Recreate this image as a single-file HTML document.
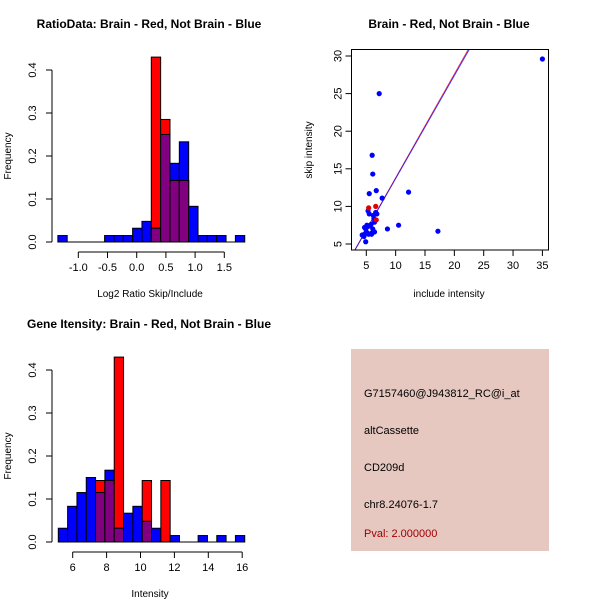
<!DOCTYPE html>
<html><head><meta charset="utf-8"><style>
body{margin:0;background:#fff}
svg{display:block;font-family:"Liberation Sans",sans-serif}
</style></head><body>
<svg id="c" width="600" height="600" xmlns="http://www.w3.org/2000/svg">
<rect width="600" height="600" fill="#fff"/>
<g id="p1"></g>
<g id="p2"></g>
<g id="p3"></g>
<g>
<rect x="351" y="349" width="198" height="202" fill="#e6c8c1"/>
<text x="364" y="397" font-size="11" fill="#000">G7157460@J943812_RC@i_at</text>
<text x="364" y="434" font-size="11" fill="#000">altCassette</text>
<text x="364" y="471" font-size="11" fill="#000">CD209d</text>
<text x="364" y="508" font-size="11" fill="#000">chr8.24076-1.7</text>
<text x="364" y="537" font-size="11" fill="#a00000">Pval: 2.000000</text>
</g>
</svg>
<script>
// Ratio histogram data
const ratioBinStart = -1.35;
const ratioBinWidth = 0.16;
const ratioBlue = [0.015,0,0,0,0,0.015,0.015,0.015,0.032,0.048,0.032,0.25,0.183,0.233,0.083,0.015,0.015,0.015,0,0.015];
const ratioRed  = [0,0,0,0,0,0,0,0,0,0,0.43,0.285,0.143,0.143,0,0,0,0,0,0];
const ratioXTicks = [-1.0,-0.5,0.0,0.5,1.0,1.5];
const freqTicks = [0.0,0.1,0.2,0.3,0.4];
// Intensity histogram data
const intBinStart = 5.15;
const intBinWidth = 0.55;
const intBlue = [0.032,0.083,0.115,0.15,0.115,0.167,0.032,0.067,0.083,0.048,0.032,0,0.015,0,0,0.015,0,0.015,0,0.015];
const intRed  = [0,0,0,0,0.143,0.143,0.43,0,0,0.143,0,0.143,0,0,0,0,0,0,0,0];
const intXTicks = [6,8,10,12,14,16];
// Scatter data
const blueX = [7.2,6.0,6.1,6.7,5.5,7.7,12.2,17.2,8.6,10.5,4.9,35.0,
  5.3,5.5,6.2,6.6,6.8,6.4,5.8,5.1,4.9,4.7,5.2,5.6,6.1,6.4,4.7,5.1,5.4,4.5,5.9,6.3,4.3,4.6,5.0,5.8];
const blueY = [25.0,16.8,14.3,12.1,11.7,11.1,11.9,6.7,7.0,7.5,5.3,29.6,
  9.4,9.0,8.8,9.2,9.0,7.9,7.6,7.5,7.0,7.2,7.3,7.4,7.0,6.6,6.3,6.5,6.3,6.1,6.3,8.4,6.2,6.0,6.6,6.4];
const redX = [5.4,6.6,6.7];
const redY = [9.8,10.0,8.2];
const scXTicks = [5,10,15,20,25,30,35];
const scYTicks = [5,10,15,20,25,30];
const fitSlopeBlue = 1.37, fitSlopeRed = 1.38;

const NS = "http://www.w3.org/2000/svg";
function mk(parent, tag, attrs){const e=document.createElementNS(NS,tag);for(const k in attrs)e.setAttribute(k,attrs[k]);parent.appendChild(e);return e;}

function histogram(g, o){
  const xS = v => o.x0px + (v - o.x0val) * o.pxPerUnit;
  const yS = v => o.base - v * 430;
  const n = o.blue.length;
  for(let i=0;i<n;i++){
    const a = o.binStart + i*o.binW, b = a + o.binW;
    const x1 = xS(a), x2 = xS(b);
    const r = o.red[i], bl = o.blue[i];
    if(r>0){const e=mk(g,'rect',{x:x1,y:yS(r),width:x2-x1,height:yS(0)-yS(r),fill:'#ff0000',stroke:'#000','stroke-width':1});
      
      }
    if(bl>0){const e=mk(g,'rect',{x:x1,y:yS(bl),width:x2-x1,height:yS(0)-yS(bl),fill:'#0000ff',stroke:'#000','stroke-width':1});
      
      }
    const m = Math.min(r,bl);
    if(m>0){const e=mk(g,'rect',{x:x1,y:yS(m),width:x2-x1,height:yS(0)-yS(m),fill:'#800080',stroke:'#000','stroke-width':1});
      
      }
  }
  mk(g,'line',{x1:xS(o.binStart),x2:xS(o.binStart+n*o.binW),y1:yS(0),y2:yS(0),stroke:'#000'});
  const ax=52;
  mk(g,'line',{x1:ax,x2:ax,y1:yS(0),y2:yS(0.4),stroke:'#000'});
  o.yt.forEach(t=>{mk(g,'line',{x1:ax-6,x2:ax,y1:yS(t),y2:yS(t),stroke:'#000'});
    const tx=mk(g,'text',{x:0,y:0,'font-size':11,'text-anchor':'middle',transform:`translate(${ax-16},${yS(t)}) rotate(-90)`});tx.textContent=t.toFixed(1);
    
    });
  const ty=o.base+10;
  mk(g,'line',{x1:xS(o.xt[0]),x2:xS(o.xt[o.xt.length-1]),y1:ty,y2:ty,stroke:'#000'});
  o.xt.forEach(t=>{mk(g,'line',{x1:xS(t),x2:xS(t),y1:ty,y2:ty+6,stroke:'#000'});
    const tx=mk(g,'text',{x:xS(t),y:ty+19,'font-size':11,'text-anchor':'middle'});tx.textContent=o.fmt(t);
    
    });
  const yl=mk(g,'text',{x:0,y:0,'font-size':10,'text-anchor':'middle',transform:`translate(11,${(yS(0)+yS(0.4))/2}) rotate(-90)`});yl.textContent='Frequency';
  
  
  const xl=mk(g,'text',{x:150,y:o.base+55,'font-size':10,'text-anchor':'middle'});xl.textContent=o.xlabel;
  
  
  const tl=mk(g,'text',{x:o.titleX,y:o.base-214,'font-size':12,'font-weight':'bold','text-anchor':'middle'});tl.textContent=o.title;
  
  
}

histogram(document.getElementById('p1'),{x0px:136.7,x0val:0,pxPerUnit:58.4,base:242,binStart:ratioBinStart,binW:ratioBinWidth,
  blue:ratioBlue,red:ratioRed,yt:freqTicks,xt:ratioXTicks,fmt:t=>t.toFixed(1),xlabel:'Log2 Ratio Skip/Include',
  title:'RatioData: Brain - Red, Not Brain - Blue',titleX:149});
histogram(document.getElementById('p3'),{x0px:72.7,x0val:6,pxPerUnit:16.95,base:542,binStart:intBinStart,binW:intBinWidth,
  blue:intBlue,red:intRed,yt:freqTicks,xt:intXTicks,fmt:t=>String(t),xlabel:'Intensity',
  title:'Gene Itensity: Brain - Red, Not Brain - Blue',titleX:149});

(function(){
  const g=document.getElementById('p2');
  const L=351.5,R=548.5,T=49.5,B=250;
  const xS=v=>366.3+(v-5)*5.87, yS=v=>244-(v-5)*7.52;
  const cp=mk(g,'clipPath',{id:'clp'});mk(cp,'rect',{x:L,y:T,width:R-L,height:B-T});
  const lg=mk(g,'g',{'clip-path':'url(#clp)'});
  [[fitSlopeRed,'#ff0000'],[fitSlopeBlue,'#0000ff']].forEach(([s,c])=>{
    const e=mk(lg,'line',{x1:xS(0),y1:yS(0),x2:xS(40),y2:yS(40*s),stroke:c,'stroke-width':1,'stroke-opacity':0.75});
    
    
  });
  blueX.forEach((x,i)=>{const e=mk(lg,'circle',{cx:xS(x),cy:yS(blueY[i]),r:2.6,fill:'#0000ff'});
    
    });
  redX.forEach((x,i)=>{const e=mk(lg,'circle',{cx:xS(x),cy:yS(redY[i]),r:2.6,fill:'#e00000'});
    
    });
  mk(g,'rect',{x:L,y:T,width:R-L,height:B-T,fill:'none',stroke:'#000'});
  scXTicks.forEach(t=>{mk(g,'line',{x1:xS(t),x2:xS(t),y1:B,y2:B+6,stroke:'#000'});
    const tx=mk(g,'text',{x:xS(t),y:B+19,'font-size':11,'text-anchor':'middle'});tx.textContent=t;
    
    });
  scYTicks.forEach(t=>{mk(g,'line',{x1:L-6,x2:L,y1:yS(t),y2:yS(t),stroke:'#000'});
    const tx=mk(g,'text',{x:0,y:0,'font-size':11,'text-anchor':'middle',transform:`translate(${L-10},${yS(t)}) rotate(-90)`});tx.textContent=t;
    
    });
  const xl=mk(g,'text',{x:449,y:297,'font-size':10,'text-anchor':'middle'});xl.textContent='include intensity';
  
  
  const yl=mk(g,'text',{x:0,y:0,'font-size':10,'text-anchor':'middle',transform:`translate(312,150) rotate(-90)`});yl.textContent='skip intensity';
  
  
  const tl=mk(g,'text',{x:449,y:28,'font-size':12,'font-weight':'bold','text-anchor':'middle'});tl.textContent='Brain - Red, Not Brain - Blue';
  
  
})();
</script>
</body></html>
